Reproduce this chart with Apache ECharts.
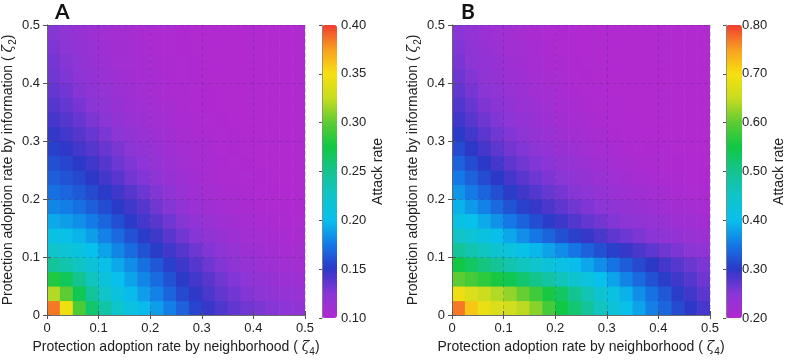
<!DOCTYPE html>
<html>
<head>
<meta charset="utf-8">
<script src="https://cdn.jsdelivr.net/npm/echarts@6/dist/echarts.min.js"></script>
<style>
  html, body { margin: 0; padding: 0; background: #fff; }
  #chart { width: 787px; height: 362px; }
</style>
</head>
<body>
<div id="chart"></div>
<script>
// cell centres (both axes), step 0.025
const zetaCells = [0.0125, 0.0375, 0.0625, 0.0875, 0.1125, 0.1375, 0.1625, 0.1875, 0.2125, 0.2375,
                   0.2625, 0.2875, 0.3125, 0.3375, 0.3625, 0.3875, 0.4125, 0.4375, 0.4625, 0.4875];
const cellStep = 0.025;

// panel A attack rate, rows from zeta2 = 0.0125 (bottom) to 0.4875 (top)
const attackA = [
  [0.385, 0.345, 0.295, 0.262, 0.240, 0.222, 0.208, 0.198, 0.188, 0.177, 0.166, 0.155, 0.147, 0.141, 0.136, 0.132, 0.129, 0.126, 0.123, 0.120],
  [0.320, 0.300, 0.270, 0.245, 0.225, 0.210, 0.198, 0.188, 0.178, 0.167, 0.157, 0.149, 0.142, 0.136, 0.131, 0.127, 0.124, 0.121, 0.118, 0.116],
  [0.280, 0.268, 0.250, 0.230, 0.213, 0.200, 0.190, 0.180, 0.170, 0.160, 0.151, 0.144, 0.138, 0.132, 0.127, 0.123, 0.120, 0.117, 0.114, 0.112],
  [0.245, 0.238, 0.228, 0.215, 0.202, 0.192, 0.182, 0.172, 0.162, 0.153, 0.146, 0.139, 0.133, 0.127, 0.122, 0.118, 0.115, 0.112, 0.110, 0.108],
  [0.222, 0.217, 0.210, 0.200, 0.190, 0.180, 0.170, 0.160, 0.152, 0.145, 0.139, 0.133, 0.127, 0.122, 0.118, 0.114, 0.111, 0.109, 0.107, 0.106],
  [0.206, 0.202, 0.196, 0.188, 0.178, 0.169, 0.160, 0.152, 0.145, 0.138, 0.132, 0.126, 0.121, 0.117, 0.113, 0.110, 0.108, 0.106, 0.105, 0.104],
  [0.192, 0.188, 0.183, 0.176, 0.168, 0.159, 0.151, 0.144, 0.138, 0.132, 0.126, 0.120, 0.116, 0.112, 0.109, 0.107, 0.105, 0.104, 0.103, 0.102],
  [0.180, 0.177, 0.172, 0.165, 0.158, 0.151, 0.145, 0.139, 0.132, 0.126, 0.120, 0.115, 0.111, 0.108, 0.106, 0.104, 0.103, 0.102, 0.101, 0.101],
  [0.172, 0.168, 0.163, 0.157, 0.151, 0.145, 0.139, 0.133, 0.127, 0.121, 0.116, 0.112, 0.108, 0.106, 0.104, 0.103, 0.102, 0.101, 0.100, 0.100],
  [0.165, 0.161, 0.156, 0.150, 0.144, 0.138, 0.132, 0.127, 0.122, 0.117, 0.113, 0.109, 0.106, 0.104, 0.103, 0.102, 0.101, 0.100, 0.100, 0.100],
  [0.159, 0.155, 0.150, 0.145, 0.139, 0.133, 0.128, 0.123, 0.118, 0.114, 0.110, 0.107, 0.105, 0.103, 0.102, 0.101, 0.100, 0.100, 0.100, 0.100],
  [0.153, 0.149, 0.144, 0.139, 0.134, 0.129, 0.124, 0.119, 0.115, 0.111, 0.108, 0.106, 0.104, 0.102, 0.101, 0.100, 0.100, 0.100, 0.100, 0.100],
  [0.148, 0.144, 0.139, 0.134, 0.129, 0.124, 0.120, 0.116, 0.112, 0.109, 0.106, 0.104, 0.103, 0.102, 0.101, 0.100, 0.100, 0.100, 0.100, 0.100],
  [0.143, 0.139, 0.134, 0.129, 0.125, 0.120, 0.116, 0.113, 0.110, 0.107, 0.105, 0.103, 0.102, 0.101, 0.100, 0.100, 0.100, 0.100, 0.100, 0.100],
  [0.139, 0.135, 0.130, 0.125, 0.121, 0.117, 0.113, 0.110, 0.108, 0.106, 0.104, 0.102, 0.101, 0.100, 0.100, 0.100, 0.100, 0.100, 0.100, 0.100],
  [0.135, 0.131, 0.126, 0.122, 0.118, 0.114, 0.111, 0.108, 0.106, 0.104, 0.103, 0.102, 0.101, 0.100, 0.100, 0.100, 0.100, 0.100, 0.100, 0.100],
  [0.132, 0.128, 0.123, 0.119, 0.115, 0.112, 0.109, 0.107, 0.105, 0.103, 0.102, 0.101, 0.100, 0.100, 0.100, 0.100, 0.100, 0.100, 0.100, 0.100],
  [0.130, 0.126, 0.121, 0.117, 0.113, 0.110, 0.108, 0.106, 0.104, 0.103, 0.102, 0.101, 0.100, 0.100, 0.100, 0.100, 0.100, 0.100, 0.100, 0.100],
  [0.128, 0.124, 0.119, 0.115, 0.112, 0.109, 0.107, 0.105, 0.103, 0.102, 0.101, 0.100, 0.100, 0.100, 0.100, 0.100, 0.100, 0.100, 0.100, 0.100],
  [0.126, 0.122, 0.117, 0.113, 0.110, 0.108, 0.106, 0.104, 0.103, 0.102, 0.101, 0.100, 0.100, 0.100, 0.100, 0.100, 0.100, 0.100, 0.100, 0.100]
];

// panel B attack rate, same layout
const attackB = [
  [0.770, 0.720, 0.685, 0.670, 0.660, 0.645, 0.620, 0.585, 0.550, 0.520, 0.490, 0.460, 0.430, 0.405, 0.380, 0.355, 0.335, 0.315, 0.300, 0.285],
  [0.690, 0.670, 0.655, 0.640, 0.625, 0.605, 0.580, 0.555, 0.530, 0.500, 0.470, 0.440, 0.415, 0.390, 0.365, 0.345, 0.325, 0.305, 0.290, 0.275],
  [0.600, 0.585, 0.570, 0.555, 0.540, 0.522, 0.502, 0.482, 0.462, 0.442, 0.422, 0.400, 0.380, 0.358, 0.338, 0.320, 0.305, 0.290, 0.278, 0.265],
  [0.550, 0.530, 0.512, 0.494, 0.476, 0.460, 0.444, 0.428, 0.413, 0.398, 0.382, 0.364, 0.346, 0.328, 0.313, 0.300, 0.288, 0.277, 0.267, 0.258],
  [0.490, 0.472, 0.455, 0.438, 0.422, 0.408, 0.394, 0.380, 0.364, 0.348, 0.333, 0.319, 0.306, 0.294, 0.283, 0.274, 0.265, 0.257, 0.250, 0.243],
  [0.450, 0.433, 0.416, 0.399, 0.382, 0.365, 0.349, 0.334, 0.319, 0.306, 0.294, 0.284, 0.274, 0.266, 0.258, 0.250, 0.244, 0.238, 0.232, 0.227],
  [0.415, 0.400, 0.385, 0.368, 0.350, 0.333, 0.317, 0.303, 0.291, 0.280, 0.271, 0.263, 0.255, 0.248, 0.242, 0.236, 0.231, 0.226, 0.222, 0.218],
  [0.390, 0.373, 0.356, 0.338, 0.322, 0.307, 0.294, 0.283, 0.273, 0.264, 0.256, 0.249, 0.243, 0.237, 0.231, 0.226, 0.222, 0.218, 0.214, 0.211],
  [0.370, 0.352, 0.334, 0.318, 0.303, 0.290, 0.279, 0.269, 0.260, 0.252, 0.245, 0.238, 0.232, 0.226, 0.221, 0.217, 0.213, 0.210, 0.207, 0.205],
  [0.350, 0.332, 0.315, 0.300, 0.287, 0.276, 0.266, 0.257, 0.249, 0.242, 0.235, 0.229, 0.223, 0.218, 0.214, 0.210, 0.207, 0.205, 0.203, 0.202],
  [0.332, 0.315, 0.300, 0.286, 0.274, 0.264, 0.255, 0.247, 0.240, 0.233, 0.227, 0.221, 0.216, 0.212, 0.208, 0.205, 0.203, 0.202, 0.201, 0.200],
  [0.315, 0.300, 0.286, 0.274, 0.263, 0.254, 0.246, 0.238, 0.231, 0.225, 0.219, 0.214, 0.210, 0.206, 0.204, 0.202, 0.201, 0.200, 0.200, 0.200],
  [0.302, 0.288, 0.275, 0.264, 0.254, 0.245, 0.237, 0.230, 0.224, 0.218, 0.213, 0.209, 0.205, 0.203, 0.201, 0.200, 0.200, 0.200, 0.200, 0.200],
  [0.290, 0.277, 0.265, 0.255, 0.246, 0.238, 0.231, 0.224, 0.218, 0.213, 0.209, 0.205, 0.203, 0.201, 0.200, 0.200, 0.200, 0.200, 0.200, 0.200],
  [0.280, 0.268, 0.257, 0.247, 0.239, 0.232, 0.225, 0.219, 0.214, 0.209, 0.205, 0.203, 0.201, 0.200, 0.200, 0.200, 0.200, 0.200, 0.200, 0.200],
  [0.272, 0.260, 0.250, 0.241, 0.233, 0.226, 0.220, 0.215, 0.210, 0.206, 0.203, 0.201, 0.200, 0.200, 0.200, 0.200, 0.200, 0.200, 0.200, 0.200],
  [0.265, 0.254, 0.244, 0.235, 0.228, 0.221, 0.216, 0.211, 0.207, 0.204, 0.202, 0.200, 0.200, 0.200, 0.200, 0.200, 0.200, 0.200, 0.200, 0.200],
  [0.259, 0.248, 0.239, 0.231, 0.224, 0.218, 0.213, 0.208, 0.205, 0.202, 0.201, 0.200, 0.200, 0.200, 0.200, 0.200, 0.200, 0.200, 0.200, 0.200],
  [0.254, 0.243, 0.234, 0.227, 0.220, 0.215, 0.210, 0.206, 0.203, 0.201, 0.200, 0.200, 0.200, 0.200, 0.200, 0.200, 0.200, 0.200, 0.200, 0.200],
  [0.250, 0.239, 0.230, 0.223, 0.217, 0.212, 0.208, 0.204, 0.202, 0.201, 0.200, 0.200, 0.200, 0.200, 0.200, 0.200, 0.200, 0.200, 0.200, 0.200]
];

const rangeA = [0.1, 0.4];
const rangeB = [0.2, 0.8];

// colormap, low -> high
const rainbow = ['#b02ad0', '#8a36d6', '#2c38c8', '#1478e6', '#08c0ec', '#10c4c8', '#14c490',
                 '#10c844', '#5ccc34', '#c8dc20', '#f8e010', '#f8a020', '#f03c30'];

function toCells(rows) {
  const out = [];
  rows.forEach(function (row, j) {
    row.forEach(function (v, i) { out.push([zetaCells[i], zetaCells[j], v]); });
  });
  return out;
}

const font = 'Liberation Sans, Arial, sans-serif';
const textColor = '#222';

function renderCell(params, api) {
  const x = api.value(0), y = api.value(1);
  const p0 = api.coord([x - cellStep / 2, y + cellStep / 2]);
  const p1 = api.coord([x + cellStep / 2, y - cellStep / 2]);
  return {
    type: 'rect',
    shape: { x: p0[0], y: p0[1], width: p1[0] - p0[0] + 0.6, height: p1[1] - p0[1] + 0.6 },
    style: { fill: api.visual('color') }
  };
}

const nameStyle = {
  fontFamily: font, fontSize: 14, color: textColor,
  rich: { z: { fontFamily: 'DejaVu Serif', fontStyle: 'italic', fontSize: 14, color: textColor },
          sub: { fontSize: 10, color: textColor, padding: [9, 0, 0, 0] } }
};
const frameLine = { show: true, lineStyle: { color: '#666', width: 0.8 } };
const frameTick = { inside: true, length: 4, lineStyle: { color: '#555' } };
const gridDash = { show: true, lineStyle: { color: 'rgba(50,40,90,0.28)', type: [4, 3], width: 0.8 } };
const tickLabel = { fontFamily: font, fontSize: 13, color: textColor, margin: 7,
                    formatter: function (v) { return v === 0 ? '0' : v.toFixed(1); } };

function mainX(gridIndex, name) {
  return { type: 'value', gridIndex: gridIndex, min: 0, max: 0.5, interval: 0.1, z: 5,
    name: name, nameLocation: 'middle', nameGap: 23, nameTextStyle: nameStyle,
    axisLine: frameLine, axisTick: frameTick, axisLabel: tickLabel, splitLine: gridDash };
}
function topX(gridIndex) {
  return { type: 'value', gridIndex: gridIndex, position: 'top', min: 0, max: 0.5, interval: 0.1, z: 5,
    axisLine: frameLine, axisTick: frameTick, axisLabel: { show: false }, splitLine: { show: false } };
}
function mainY(gridIndex, name) {
  return { type: 'value', gridIndex: gridIndex, min: 0, max: 0.5, interval: 0.1, z: 5,
    name: name, nameLocation: 'middle', nameGap: 29, nameTextStyle: nameStyle,
    axisLine: frameLine, axisTick: frameTick, axisLabel: tickLabel, splitLine: gridDash };
}
function rightY(gridIndex) {
  return { type: 'value', gridIndex: gridIndex, position: 'right', min: 0, max: 0.5, interval: 0.1, z: 5,
    axisLine: frameLine, axisTick: frameTick, axisLabel: { show: false }, splitLine: { show: false } };
}
function barY(gridIndex, range) {
  return { type: 'value', gridIndex: gridIndex, position: 'right', min: range[0], max: range[1],
    interval: (range[1] - range[0]) / 6, z: 6,
    name: 'Attack rate', nameLocation: 'middle', nameGap: 34, nameRotate: 90,
    nameTextStyle: { fontFamily: font, fontSize: 14, color: textColor },
    axisLine: { show: true, lineStyle: { color: '#888', width: 0.8 } },
    axisTick: { inside: true, length: 3, lineStyle: { color: '#555' } },
    axisLabel: { fontFamily: font, fontSize: 13, color: textColor, margin: 4,
                 formatter: function (v) { return v.toFixed(2); } },
    splitLine: { show: false } };
}
function barX(gridIndex) {
  return { type: 'value', gridIndex: gridIndex, show: false, min: 0, max: 1 };
}

const xName = 'Protection adoption rate by neighborhood ( {z|ζ}{sub|4})';
const yName = 'Protection adoption rate by information ( {z|ζ}{sub|2})';

const chart = echarts.init(document.getElementById('chart'), null, { renderer: 'canvas' });
chart.setOption({
  animation: false,
  backgroundColor: '#fff',
  title: [
    { text: 'A', left: 50, top: -3, textStyle: { fontFamily: 'Lato', fontWeight: 'bold', fontSize: 21, color: '#111' } },
    { text: 'B', left: 456, top: -3, textStyle: { fontFamily: 'Lato', fontWeight: 'bold', fontSize: 21, color: '#111' } }
  ],
  grid: [
    { left: 47, top: 25, width: 258, height: 293 },
    { left: 452, top: 25, width: 258, height: 293 },
    { left: 322, top: 25, width: 15, height: 293 },
    { left: 726, top: 25, width: 16, height: 293 }
  ],
  xAxis: [mainX(0, xName), topX(0), mainX(1, xName), topX(1), barX(2), barX(3)],
  yAxis: [mainY(0, yName), rightY(0), mainY(1, yName), rightY(1), barY(2, rangeA), barY(3, rangeB)],
  visualMap: [
    { type: 'continuous', seriesIndex: 0, dimension: 2, min: rangeA[0], max: rangeA[1],
      left: 322, top: 25, itemWidth: 15, itemHeight: 293, padding: 0, calculable: false,
      text: null, inRange: { color: rainbow } },
    { type: 'continuous', seriesIndex: 1, dimension: 2, min: rangeB[0], max: rangeB[1],
      left: 726, top: 25, itemWidth: 16, itemHeight: 293, padding: 0, calculable: false,
      text: null, inRange: { color: rainbow } }
  ],
  series: [
    { type: 'custom', xAxisIndex: 0, yAxisIndex: 0, clip: true, renderItem: renderCell,
      encode: { x: 0, y: 1 }, data: toCells(attackA) },
    { type: 'custom', xAxisIndex: 2, yAxisIndex: 2, clip: true, renderItem: renderCell,
      encode: { x: 0, y: 1 }, data: toCells(attackB) }
  ]
});
</script>
</body>
</html>
